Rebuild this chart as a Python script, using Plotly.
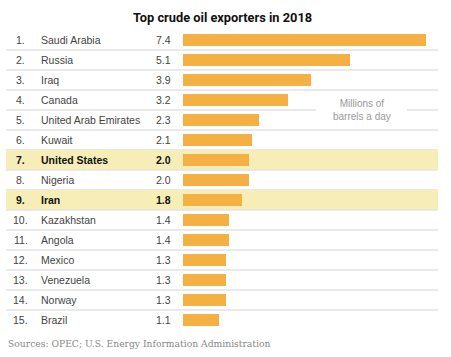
import plotly.graph_objects as go

countries = ["Saudi Arabia", "Russia", "Iraq", "Canada", "United Arab Emirates",
             "Kuwait", "United States", "Nigeria", "Iran", "Kazakhstan",
             "Angola", "Mexico", "Venezuela", "Norway", "Brazil"]
values = [7.4, 5.1, 3.9, 3.2, 2.3, 2.1, 2.0, 2.0, 1.8, 1.4, 1.4, 1.3, 1.3, 1.3, 1.1]
highlighted = ["United States", "Iran"]
title_text = "Top crude oil exporters in 2018"
source_text = "Sources: OPEC; U.S. Energy Information Administration"
unit_text = "Millions of<br>barrels a day"

W, H = 451, 357
ranks = list(range(1, len(countries) + 1))

BAR = "#f4b042"
HL = "#f6eeb6"
GRID = "#e3e3e3"
FONT = "Arial, Liberation Sans, sans-serif"
FS = 10.5

fig = go.Figure()
fig.add_trace(go.Bar(
    x=values, y=ranks, orientation="h",
    marker=dict(color=BAR, line=dict(width=0)),
    width=0.58, hoverinfo="skip",
))

shapes = []
annotations = []
x0p, x1p = 6 / W, 438 / W
for i, c in enumerate(countries):
    r = i + 1
    if c in highlighted:
        shapes.append(dict(type="rect", xref="paper", yref="y", x0=x0p, x1=x1p,
                           y0=r - 0.5, y1=r + 0.5, fillcolor=HL, line=dict(width=0),
                           layer="below"))
    if r < len(countries):
        shapes.append(dict(type="line", xref="paper", yref="y", x0=x0p, x1=x1p,
                           y0=r + 0.5, y1=r + 0.5, line=dict(color=GRID, width=1.5),
                           layer="below"))
    bold = c in highlighted
    col = "#111" if bold else "#444"
    def t(s):
        return f"<b>{s}</b>" if bold else s
    annotations.append(dict(xref="paper", yref="y", x=20.5 / W, y=r, text=t(f"{r}."),
                            showarrow=False, xanchor="center", yanchor="middle",
                            font=dict(family=FONT, size=FS, color=col)))
    annotations.append(dict(xref="paper", yref="y", x=39 / W, y=r, text=t(c),
                            showarrow=False, xanchor="left", yanchor="middle",
                            font=dict(family=FONT, size=FS, color=col)))
    annotations.append(dict(xref="paper", yref="y", x=173 / W, y=r, text=t(f"{values[i]:.1f}"),
                            showarrow=False, xanchor="right", yanchor="middle",
                            font=dict(family=FONT, size=FS, color=col)))

# white backdrop for unit label
shapes.append(dict(type="rect", xref="paper", yref="y", x0=316 / W, x1=407 / W,
                   y0=4.3, y1=4.7, fillcolor="white", line=dict(width=0), layer="below"))
annotations.append(dict(xref="paper", yref="y", x=362 / W, y=4.5, text=unit_text,
                        showarrow=False, xanchor="center", yanchor="middle",
                        font=dict(family=FONT, size=10, color="#999")))

annotations.append(dict(xref="paper", yref="paper", x=222 / W, y=1 - 17 / H,
                        text=f"<b>{title_text}</b>", showarrow=False,
                        xanchor="center", yanchor="middle",
                        font=dict(family="Roboto", size=12.8, color="#111")))
annotations.append(dict(xref="paper", yref="paper", x=6 / W, y=1 - 343 / H,
                        text=source_text, showarrow=False,
                        xanchor="left", yanchor="middle",
                        font=dict(family="DejaVu Serif", size=9.2, color="#888")))

px_per_unit = (426 - 183) / 7.4
fig.update_layout(
    width=W, height=H,
    margin=dict(l=0, r=0, t=0, b=0),
    paper_bgcolor="white", plot_bgcolor="rgba(0,0,0,0)",
    showlegend=False,
    xaxis=dict(domain=[183 / W, 438 / W], range=[0, (438 - 183) / px_per_unit],
               visible=False, fixedrange=True),
    yaxis=dict(domain=[0, 1], range=[(H - 20) / 20, -1], visible=False, fixedrange=True),
    shapes=shapes, annotations=annotations,
    bargap=0,
)

fig.write_html("out.html", config={"displayModeBar": False},
               post_script="document.body.style.margin='0';")
